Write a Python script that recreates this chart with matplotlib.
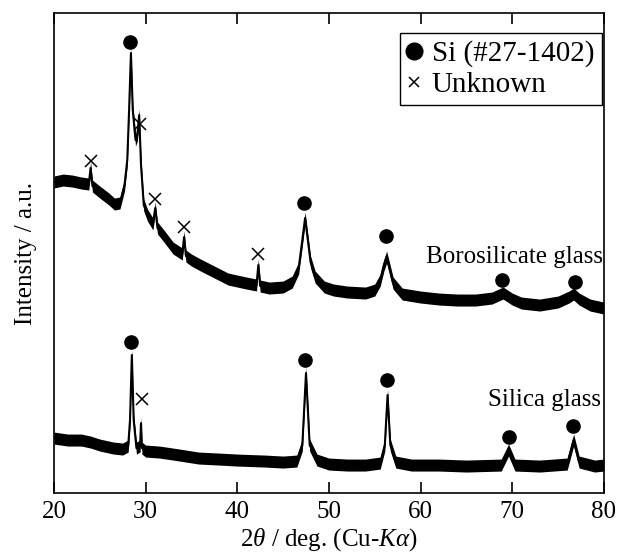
import matplotlib
matplotlib.use("Agg")
import matplotlib.pyplot as plt
from matplotlib.lines import Line2D

plt.rcParams['font.family'] = ['Liberation Serif', 'DejaVu Serif']
plt.rcParams['font.size'] = 18
plt.rcParams['mathtext.fontset'] = 'custom'
plt.rcParams['mathtext.rm'] = 'Liberation Serif'
plt.rcParams['mathtext.it'] = 'Liberation Serif:italic'

# borosilicate glass trace (2theta, intensity a.u.)
boro_2t = [20.0, 21.0, 22.0, 23.0, 23.8, 24.0, 24.2, 25.0, 26.0, 26.6, 27.2, 27.7,
           28.0, 28.2, 28.4, 28.6, 28.9, 29.1, 29.3, 29.5, 29.8, 30.2, 30.8, 31.05,
           31.3, 32.0, 33.0, 34.0, 34.2, 34.4, 35.0, 36.0, 37.5, 39.0, 41.0, 42.1,
           42.3, 42.5, 43.5, 45.0, 46.0, 46.7, 47.1, 47.4, 47.7, 48.0, 48.5, 49.5,
           50.5, 52.0, 54.0, 55.0, 55.6, 56.0, 56.3, 56.6, 57.0, 58.0, 60.0, 62.0,
           64.0, 66.0, 67.8, 69.0, 70.0, 71.0, 73.0, 75.0, 76.2, 76.7, 77.3, 78.5, 80.0]
boro_int = [311, 313, 312, 310, 309, 325, 307, 301, 294, 289, 290, 308,
            333, 383, 440, 383, 353, 358, 378, 328, 288, 278, 269, 285,
            265, 257, 245, 239, 256, 237, 233, 228, 221, 214, 210, 208,
            228, 207, 205, 206, 211, 225, 253, 275, 253, 231, 216, 206,
            203, 201, 200, 203, 213, 228, 236, 225, 210, 199, 196, 194,
            193, 193, 195, 200, 194, 190, 188, 191, 196, 199, 194, 188, 185]

# silica glass trace
sil_2t = [20.0, 21.5, 23.0, 24.0, 25.0, 26.5, 27.5, 28.1, 28.3, 28.5, 28.7, 29.0,
          29.4, 29.5, 29.6, 30.0, 31.5, 33.0, 35.8, 38.0, 40.0, 43.0, 45.0, 46.5,
          47.1, 47.5, 47.9, 48.7, 50.0, 52.0, 54.0, 55.6, 56.1, 56.4, 56.7, 57.3,
          59.0, 62.0, 65.0, 68.8, 69.6, 70.3, 73.0, 76.0, 76.7, 77.3, 79.0, 80.0]
sil_int = [55, 53, 53, 51, 48, 45, 44, 47, 73, 138, 73, 45,
           47, 70, 45, 42, 41, 39, 35, 34, 33, 32, 31, 32,
           48, 120, 48, 33, 29, 28, 28, 30, 48, 98, 48, 31,
           28, 28, 27, 28, 43, 28, 27, 29, 53, 31, 27, 28]

# peak labels
boro_si_2t = [28.35, 47.3, 56.2, 68.9, 76.8]
boro_si_int = [451, 290, 257, 213, 211]
boro_unk_2t = [24.0, 29.35, 31.05, 34.2, 42.25]
boro_unk_int = [332, 369, 294, 266, 239]
sil_si_2t = [28.4, 47.4, 56.3, 69.6, 76.6]
sil_si_int = [151, 133, 113, 56, 67]
sil_unk_2t = [29.6]
sil_unk_int = [94]

fig = plt.figure(figsize=(6.2, 5.54), dpi=100)
ax = fig.add_axes([0.087, 0.110, 0.887, 0.8665])

for xs, ys, hw in [(boro_2t, boro_int, 6), (sil_2t, sil_int, 6)]:
    lo = [v - hw for v in ys]
    hi = [v + hw for v in ys]
    ax.fill_between(xs, lo, hi, color='black', lw=0)
    ax.plot(xs, ys, color='black', lw=1.5)

ax.plot(boro_si_2t, boro_si_int, 'o', color='black', ms=9.5, ls='none')
ax.plot(sil_si_2t, sil_si_int, 'o', color='black', ms=9.5, ls='none')
ax.plot(boro_unk_2t, boro_unk_int, 'x', color='black', ms=8, mew=1.1, ls='none')
ax.plot(sil_unk_2t, sil_unk_int, 'x', color='black', ms=8, mew=1.1, ls='none')

ax.text(79.85, 230, 'Borosilicate glass', ha='right', va='baseline')
ax.text(79.7, 87, 'Silica glass', ha='right', va='baseline')

handles = [Line2D([], [], marker='o', color='black', ls='none', ms=12),
           Line2D([], [], marker='x', color='black', ls='none', ms=7, mew=1.1)]
leg = ax.legend(handles, ['Si (#27-1402)', 'Unknown'], loc='upper right',
                bbox_to_anchor=(0.996, 0.958), fancybox=False, edgecolor='black',
                framealpha=1, handlelength=0.5, handletextpad=0.35,
                borderpad=0.25, labelspacing=0.15, borderaxespad=0,
                fontsize=21)
leg.get_frame().set_linewidth(1.0)

ax.set_xlim(20, 80)
ax.set_ylim(0, 480)
ax.set_xticks([20, 30, 40, 50, 60, 70, 80])
ax.set_yticks([])
ax.tick_params(axis='x', direction='in', length=8, width=1.2, top=True, pad=6)
for s in ax.spines.values():
    s.set_linewidth(1.2)

ax.set_xlabel(r'2$\theta$ / deg. (Cu-$K\alpha$)', labelpad=2)
ax.set_ylabel('Intensity / a.u.', labelpad=12)

fig.savefig('out.png', dpi=100)
